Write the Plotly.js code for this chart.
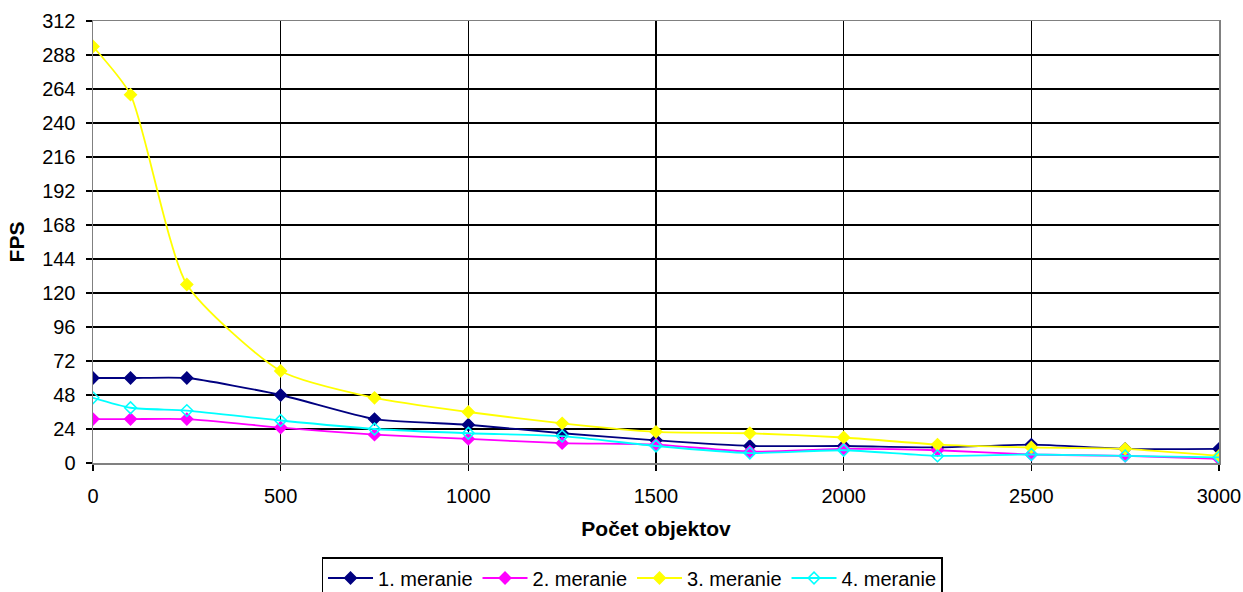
<!DOCTYPE html>
<html>
<head>
<meta charset="utf-8">
<script src="https://cdn.plot.ly/plotly-3.0.1.min.js"></script>
<style>html,body{margin:0;padding:0;background:#fff;}#chart{width:1243px;height:592px;}</style>
</head>
<body>
<div id="chart"></div>
<script>
const objekty = [0, 100, 250, 500, 750, 1000, 1250, 1500, 1750, 2000, 2250, 2500, 2750, 3000];
const meranie1 = [60, 60, 60, 48, 31, 27, 21, 16, 12, 12, 11, 13, 10, 10];
const meranie2 = [31, 31, 31, 25, 20, 17, 14, 13, 8, 10, 9, 6, 5, 3];
const meranie3 = [294, 260, 126, 65, 46, 36, 28, 22, 21, 18, 13, 11, 10, 5];
const meranie4 = [46, 39, 37, 30, 24, 21, 19, 12, 7, 9, 5, 6, 5, 4];
const seriesNames = ['1. meranie', '2. meranie', '3. meranie', '4. meranie'];
const yTicks = [0, 24, 48, 72, 96, 120, 144, 168, 192, 216, 240, 264, 288, 312];
const xTicks = [0, 500, 1000, 1500, 2000, 2500, 3000];

const colors = ['#000080', '#FF00FF', '#FFFF00', '#00FFFF'];
const symbols = ['diamond', 'diamond', 'diamond', 'diamond-open'];
const data = [meranie1, meranie2, meranie3, meranie4].map((ys, i) => ({
  x: objekty, y: ys, name: seriesNames[i], type: 'scatter', mode: 'lines+markers',
  line: {color: colors[i], width: 1.8, shape: 'spline', smoothing: 0.6},
  marker: {color: colors[i], symbol: symbols[i], size: 9, line: {color: colors[i], width: 1.5}}
}));

const fam = 'Liberation Sans, Arial, sans-serif';
const font = {family: fam, size: 20, color: '#000'};
const titleFont = {family: fam, size: 21, color: '#000'};
const layout = {
  width: 1243, height: 592,
  margin: {l: 93, r: 24, t: 21, b: 129, autoexpand: false},
  paper_bgcolor: '#fff', plot_bgcolor: '#fff',
  font: font,
  showlegend: true,
  legend: {orientation: 'h', x: 0.4787, xanchor: 'center', y: -0.2127, yanchor: 'top',
    bordercolor: '#000', borderwidth: 1.5, font: {family: fam, size: 20, color: '#000'},
    itemwidth: 45, tracegroupgap: 0},
  xaxis: {
    range: [0, 3000], tickvals: xTicks, ticktext: xTicks.map(String),
    showgrid: true, gridcolor: '#000', gridwidth: 1.5,
    zeroline: true, zerolinecolor: '#000', zerolinewidth: 2,
    showline: true, mirror: true, linecolor: '#808080', linewidth: 1.5,
    ticks: 'outside', ticklen: 6, tickcolor: '#000', tickwidth: 1.5,
    ticklabelstandoff: 8,
    title: {text: '<b>Počet objektov</b>', font: titleFont, standoff: 16}
  },
  yaxis: {
    range: [0, 312], tickvals: yTicks, ticktext: yTicks.map(String),
    showgrid: true, gridcolor: '#000', gridwidth: 1.5,
    zeroline: true, zerolinecolor: '#000', zerolinewidth: 2,
    showline: true, mirror: true, linecolor: '#808080', linewidth: 1.5,
    ticks: 'outside', ticklen: 6, tickcolor: '#000', tickwidth: 1.5,
    ticklabelstandoff: 6,
    title: {text: '<b>FPS</b>', font: titleFont, standoff: 12}
  }
};
Plotly.newPlot('chart', data, layout, {displayModeBar: false, staticPlot: true});
</script>
</body>
</html>
